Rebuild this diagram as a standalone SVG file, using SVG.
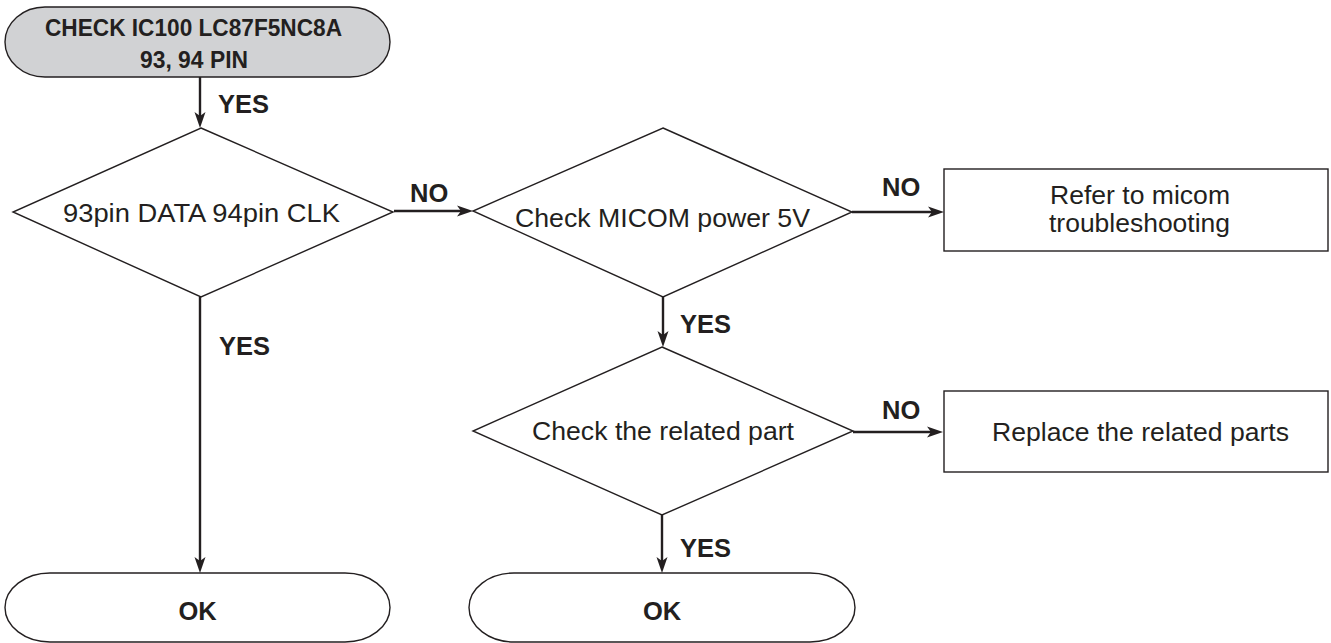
<svg xmlns="http://www.w3.org/2000/svg" width="1331" height="643" viewBox="0 0 1331 643">
  <style>
    .shape { fill: #ffffff; stroke: #231f20; stroke-width: 1.4; }
    .start { fill: #d1d2d4; stroke: #231f20; stroke-width: 1.4; }
    .txt { font-family: "Liberation Sans", Arial, sans-serif; font-size: 26.5px; fill: #231f20; text-anchor: middle; }
    .bold { font-family: "Liberation Sans", Arial, sans-serif; font-weight: bold; font-size: 25.5px; fill: #231f20; }
    .title { font-family: "Liberation Sans", Arial, sans-serif; font-weight: bold; font-size: 24px; fill: #231f20; }
    .link { fill: none; stroke: #231f20; stroke-width: 2.4; marker-end: url(#head); }
  </style>
  <defs>
    <marker id="head" markerUnits="userSpaceOnUse" markerWidth="18" markerHeight="14" viewBox="0 -7 18 14" refX="8" refY="0" orient="auto">
      <path d="M0,-5.5 L16,0 L0,5.5 L4,0 Z" fill="#231f20"/>
    </marker>
  </defs>

  <!-- start terminal -->
  <g id="start">
    <rect class="start" x="5" y="7" width="385" height="70" rx="40" ry="35"/>
    <text class="title" x="193.5" y="36" text-anchor="middle" textLength="297" lengthAdjust="spacingAndGlyphs">CHECK IC100 LC87F5NC8A</text>
    <text class="title" x="194" y="68" text-anchor="middle" textLength="108" lengthAdjust="spacingAndGlyphs">93, 94 PIN</text>
  </g>

  <!-- decision: data / clock pins -->
  <g id="dec-pins">
    <polygon class="shape" points="201,128 393,212 201,297 13,212"/>
    <text class="txt" x="201.5" y="222" textLength="277" lengthAdjust="spacingAndGlyphs">93pin DATA 94pin CLK</text>
  </g>

  <!-- decision: micom supply -->
  <g id="dec-power">
    <polygon class="shape" points="663,128 852,212 663,297 473,211"/>
    <text class="txt" x="662.5" y="227" textLength="295" lengthAdjust="spacingAndGlyphs">Check MICOM power 5V</text>
  </g>

  <!-- process: micom troubleshooting -->
  <g id="proc-micom">
    <rect class="shape" x="944" y="169" width="384" height="82"/>
    <text class="txt" x="1140" y="204" textLength="180" lengthAdjust="spacingAndGlyphs">Refer to micom</text>
    <text class="txt" x="1139.5" y="232" textLength="181" lengthAdjust="spacingAndGlyphs">troubleshooting</text>
  </g>

  <!-- decision: related part -->
  <g id="dec-part">
    <polygon class="shape" points="662,347 853,431 662,515 473,431"/>
    <text class="txt" x="663" y="440" textLength="262" lengthAdjust="spacingAndGlyphs">Check the related part</text>
  </g>

  <!-- process: replace parts -->
  <g id="proc-replace">
    <rect class="shape" x="944" y="391" width="384" height="81"/>
    <text class="txt" x="1140.5" y="441" textLength="297" lengthAdjust="spacingAndGlyphs">Replace the related parts</text>
  </g>

  <!-- end terminals -->
  <g id="end-left">
    <rect class="shape" x="5" y="573" width="385" height="69" rx="45" ry="34.5"/>
    <text class="bold" x="197.5" y="620" text-anchor="middle">OK</text>
  </g>
  <g id="end-right">
    <rect class="shape" x="469" y="573" width="386" height="69" rx="45" ry="34.5"/>
    <text class="bold" x="662" y="620" text-anchor="middle">OK</text>
  </g>

  <!-- connectors -->
  <g id="connectors">
    <line class="link" x1="200" y1="77" x2="200" y2="120"/>
    <line class="link" x1="200" y1="297" x2="200" y2="565"/>
    <line class="link" x1="394" y1="211" x2="465" y2="211"/>
    <line class="link" x1="852" y1="212" x2="936" y2="212"/>
    <line class="link" x1="663" y1="297" x2="663" y2="339"/>
    <line class="link" x1="853" y1="432" x2="935" y2="432"/>
    <line class="link" x1="662" y1="515" x2="662" y2="565"/>
  </g>

  <!-- connector labels -->
  <g id="labels">
    <text class="bold" x="218" y="113">YES</text>
    <text class="bold" x="219" y="355">YES</text>
    <text class="bold" x="410" y="202">NO</text>
    <text class="bold" x="882" y="196">NO</text>
    <text class="bold" x="680" y="333">YES</text>
    <text class="bold" x="882" y="419">NO</text>
    <text class="bold" x="680" y="557">YES</text>
  </g>
</svg>
